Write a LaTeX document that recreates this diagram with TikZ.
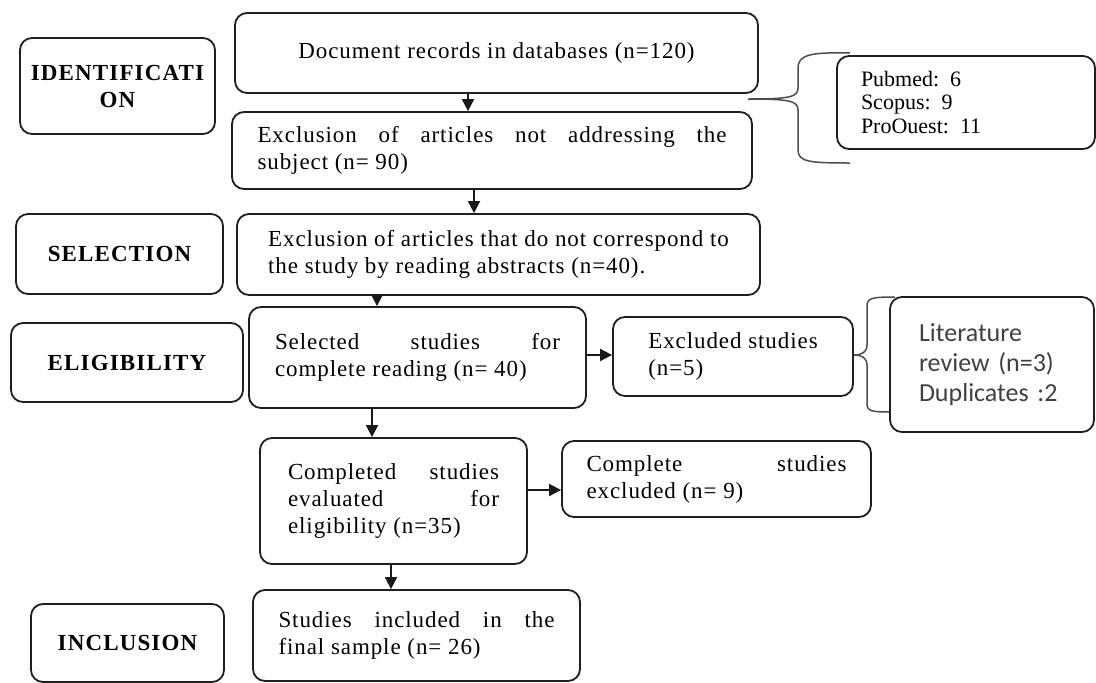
\documentclass[tikz,border=0pt]{standalone}
\usepackage{fontspec}
\setmainfont{Liberation Serif}
\newfontfamily\bodyfont[LetterSpace=4]{Liberation Serif}
\newfontfamily\labfont[LetterSpace=5]{Liberation Serif}
\newfontfamily\calfont{Carlito}
\usetikzlibrary{arrows.meta}
\newcommand\jline[2]{\makebox[#1][s]{#2}}
\begin{document}
\begin{tikzpicture}[x=1pt,y=-1pt,
  box/.style={draw=black!88, line width=1.8pt, rounded corners=12pt, inner sep=0pt,
    align=left, font=\bodyfont\fontsize{23}{27}\selectfont},
  lab/.style={box, align=center, font=\labfont\bfseries\fontsize{23}{27}\selectfont},
  arr/.style={line width=1.8pt, draw=black!90, -{Triangle[length=12pt,width=12pt]}},
  brace/.style={line width=1.5pt, draw=black!70}]
\useasboundingbox (0,0) rectangle (1096,683);
% stage labels
\node[lab, minimum width=195pt, minimum height=96pt] (lid) at (117.5,86) {IDENTIFICATI\\ON};
\node[lab, minimum width=207pt, minimum height=80pt] (lsel) at (119.5,254) {SELECTION};
\node[lab, minimum width=232pt, minimum height=79pt] (lelig) at (127,362.5) {ELIGIBILITY};
\node[lab, minimum width=193pt, minimum height=78pt] (linc) at (127.5,643) {INCLUSION};
% main flow
\node[box, minimum width=523pt, minimum height=80pt] (doc) at (496.5,53) {Document records in databases (n=120)};
\node[box, minimum width=520pt, minimum height=77pt] (ex1) at (492,150.5)
  {\jline{469pt}{Exclusion of articles not addressing the}\\subject (n= 90)};
\node[box, minimum width=523pt, minimum height=81pt] (ex2) at (498.5,254.5)
  {Exclusion of articles that do not correspond to\\the study by reading abstracts (n=40).};
\node[box, minimum width=337pt, minimum height=101pt] (sel) at (417.5,357.5)
  {\jline{285pt}{Selected studies for}\\complete reading (n= 40)};
\node[box, minimum width=240pt, minimum height=79pt] (exs) at (733,356.5)
  {Excluded studies\\(n=5)};
\node[box, minimum width=267pt, minimum height=126pt] (comp) at (393.5,501)
  {\jline{211pt}{Completed studies}\\\jline{211pt}{evaluated for}\\eligibility (n=35)};
\node[box, minimum width=309pt, minimum height=76pt] (cex) at (716.5,479)
  {\jline{260pt}{Complete studies}\\excluded (n= 9)};
\node[box, minimum width=327pt, minimum height=91pt] (inc) at (416.5,635.5)
  {\jline{276pt}{Studies included in the}\\final sample (n= 26)};
% side boxes
\node[box, minimum width=258pt, minimum height=93pt, text width=210pt,
  font=\rmfamily\fontsize{22}{23.5}\selectfont] (pub) at (966,102.5)
  {Pubmed: 6\\Scopus: 9\\ProOuest: 11};
\node[box, minimum width=204pt, minimum height=135pt, text width=146pt, text=black!75,
  font=\calfont\fontsize{26}{30}\selectfont] (lit) at (992,364.5)
  {Literature\\review (n=3)\\Duplicates :2};
% arrows
\draw[arr] (doc.south -| 468,0) -- (ex1.north -| 468,0);
\draw[arr] (ex1.south -| 474,0) -- (ex2.north -| 474,0);
\draw[arr] (ex2.south -| 377,0) -- (sel.north -| 377,0);
\draw[arr] (sel.south -| 372,0) -- (comp.north -| 372,0);
\draw[arr] (comp.south -| 391,0) -- (inc.north -| 391,0);
\draw[arr] (sel.east |- 0,355) -- (exs.west |- 0,355);
\draw[arr] (comp.east |- 0,490) -- (cex.west |- 0,490);
% braces
\coordinate (b1tip) at (748,99);
\draw[brace] (850,53) .. controls (810,52) and (798,55) .. (798,68) -- (798,88)
  .. controls (798,97) and (790,99) .. (b1tip)
  .. controls (790,99) and (798,101) .. (798,110) -- (798,150)
  .. controls (798,162) and (810,163) .. (850,163);
\draw[brace] (895,297) .. controls (872,297) and (867,298) .. (867,306) -- (867,345)
  .. controls (867,352) and (862,355) .. (exs.east |- 0,355)
  .. controls (862,355) and (867,358) .. (867,365) -- (867,404)
  .. controls (867,411) and (872,412) .. (lit.west |- 0,412);
\end{tikzpicture}
\end{document}
